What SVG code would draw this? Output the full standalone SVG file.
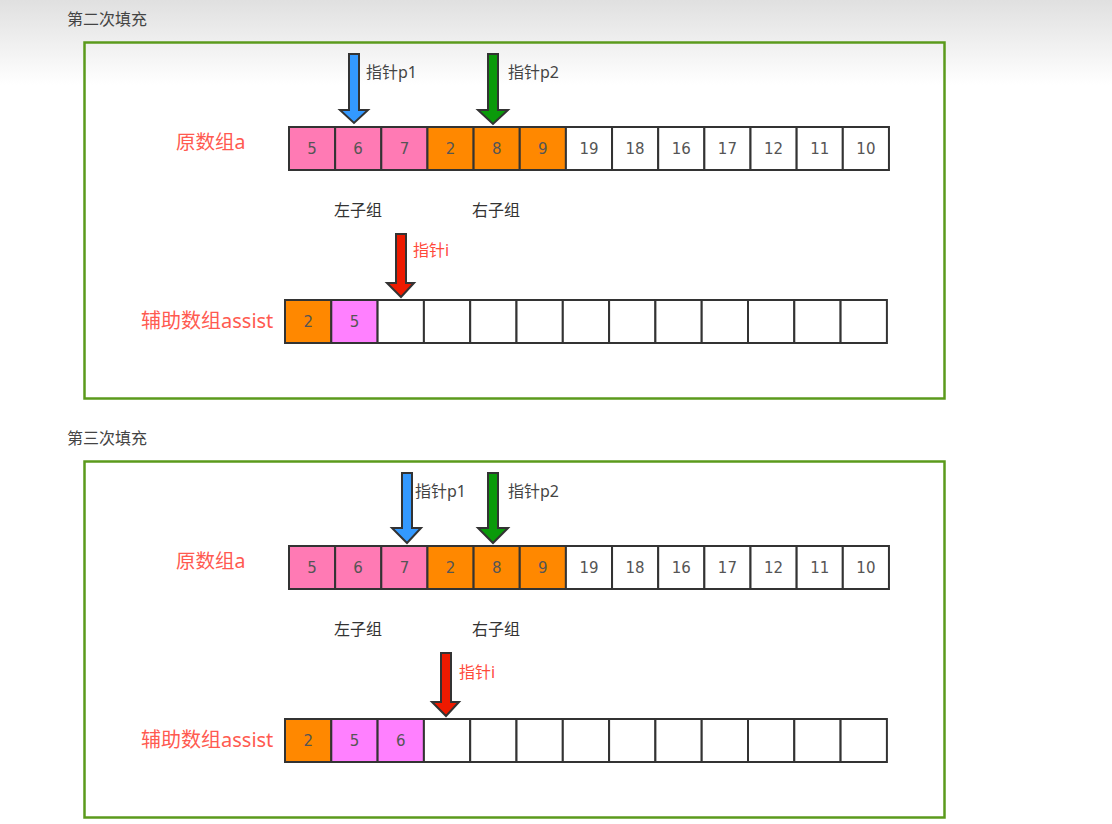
<svg xmlns="http://www.w3.org/2000/svg" width="1112" height="824" viewBox="0 0 1112 824">
<defs>
<linearGradient id="bg" x1="0" y1="0" x2="0" y2="1">
<stop offset="0" stop-color="#e0e0e0"/>
<stop offset="1" stop-color="#ffffff"/>
</linearGradient>
<style>
.frame{fill:none;stroke:#5b9a1c;stroke-width:2.5}
.cell{stroke:#333;stroke-width:2}
.w{fill:#fff}.pk{fill:#ff7ab4}.or{fill:#ff8800}.mg{fill:#ff80ff}
.num{font-family:"DejaVu Sans","Noto Sans",sans-serif;font-size:15px;fill:#555;text-anchor:middle}
.title{font-family:"Noto Sans","Noto Sans CJK SC",sans-serif;font-size:16px;fill:#444}
.lbl{font-family:"Noto Sans","Noto Sans CJK SC",sans-serif;font-size:19.5px;fill:#ff5a50}
.lbl2{font-family:"Noto Sans","Noto Sans CJK SC",sans-serif;font-size:20px;fill:#ff5a50}
.sub{font-family:"Noto Sans","Noto Sans CJK SC",sans-serif;font-size:16px;fill:#333}
.ptr{font-family:"Noto Sans","Noto Sans CJK SC",sans-serif;font-size:16px;fill:#444}
.ptrr{font-family:"Noto Sans","Noto Sans CJK SC",sans-serif;font-size:16px;fill:#ff4a3a}
.arr{stroke:#333;stroke-width:2;stroke-linejoin:miter}
.blue{fill:#3399ff}.green{fill:#0a9a0a}.red{fill:#ee1a00}
</style>
</defs>
<rect x="0" y="0" width="1112" height="824" fill="#fff"/>
<rect x="0" y="0" width="1112" height="85" fill="url(#bg)"/>

<text class="title" x="67" y="25">第二次填充</text>
<text class="title" x="67" y="444">第三次填充</text>

<g id="panel1">
<rect class="frame" x="84.5" y="42.5" width="860" height="356"/>
<text class="lbl" x="176" y="149">原数组a</text>
<text class="lbl2" x="141" y="328">辅助数组assist</text>
<text class="sub" x="334" y="216">左子组</text>
<text class="sub" x="472" y="216">右子组</text>
</g>

<g id="array-a-1">
<rect class="cell pk" x="289" y="127" width="46.15" height="43"/>
<rect class="cell pk" x="335.15" y="127" width="46.15" height="43"/>
<rect class="cell pk" x="381.3" y="127" width="46.15" height="43"/>
<rect class="cell or" x="427.45" y="127" width="46.15" height="43"/>
<rect class="cell or" x="473.6" y="127" width="46.15" height="43"/>
<rect class="cell or" x="519.75" y="127" width="46.15" height="43"/>
<rect class="cell w" x="565.9" y="127" width="46.15" height="43"/>
<rect class="cell w" x="612.05" y="127" width="46.15" height="43"/>
<rect class="cell w" x="658.2" y="127" width="46.15" height="43"/>
<rect class="cell w" x="704.35" y="127" width="46.15" height="43"/>
<rect class="cell w" x="750.5" y="127" width="46.15" height="43"/>
<rect class="cell w" x="796.65" y="127" width="46.15" height="43"/>
<rect class="cell w" x="842.8" y="127" width="46.15" height="43"/>
<text class="num" x="312" y="154">5</text>
<text class="num" x="358" y="154">6</text>
<text class="num" x="404.4" y="154">7</text>
<text class="num" x="450.5" y="154">2</text>
<text class="num" x="496.7" y="154">8</text>
<text class="num" x="542.8" y="154">9</text>
<text class="num" x="589" y="154">19</text>
<text class="num" x="635.1" y="154">18</text>
<text class="num" x="681.3" y="154">16</text>
<text class="num" x="727.4" y="154">17</text>
<text class="num" x="773.6" y="154">12</text>
<text class="num" x="819.7" y="154">11</text>
<text class="num" x="865.9" y="154">10</text>
</g>

<g id="assist-1">
<rect class="cell or" x="285" y="300" width="46.3" height="43"/>
<rect class="cell mg" x="331.3" y="300" width="46.3" height="43"/>
<rect class="cell w" x="377.6" y="300" width="46.3" height="43"/>
<rect class="cell w" x="423.9" y="300" width="46.3" height="43"/>
<rect class="cell w" x="470.2" y="300" width="46.3" height="43"/>
<rect class="cell w" x="516.5" y="300" width="46.3" height="43"/>
<rect class="cell w" x="562.8" y="300" width="46.3" height="43"/>
<rect class="cell w" x="609.1" y="300" width="46.3" height="43"/>
<rect class="cell w" x="655.4" y="300" width="46.3" height="43"/>
<rect class="cell w" x="701.7" y="300" width="46.3" height="43"/>
<rect class="cell w" x="748" y="300" width="46.3" height="43"/>
<rect class="cell w" x="794.3" y="300" width="46.3" height="43"/>
<rect class="cell w" x="840.6" y="300" width="46.3" height="43"/>
<text class="num" x="308.2" y="327">2</text>
<text class="num" x="354.5" y="327">5</text>
</g>

<g id="pointers-1">
<polygon class="arr blue" points="349,54 359,54 359,110 368,110 354,123 340,110 349,110"/>
<text class="ptr" x="366" y="78">指针p1</text>
<polygon class="arr green" points="488,54 498,54 498,110 508,110 493,124 478,110 488,110"/>
<text class="ptr" x="508" y="78">指针p2</text>
<polygon class="arr red" points="396,234 406,234 406,283 414,283 401,297 387,283 396,283"/>
<text class="ptrr" x="413" y="256">指针i</text>
</g>

<g id="panel2">
<rect class="frame" x="84.5" y="461.5" width="860" height="356"/>
<text class="lbl" x="176" y="568">原数组a</text>
<text class="lbl2" x="141" y="747">辅助数组assist</text>
<text class="sub" x="334" y="635">左子组</text>
<text class="sub" x="472" y="635">右子组</text>
</g>

<g id="array-a-2">
<rect class="cell pk" x="289" y="546" width="46.15" height="43"/>
<rect class="cell pk" x="335.15" y="546" width="46.15" height="43"/>
<rect class="cell pk" x="381.3" y="546" width="46.15" height="43"/>
<rect class="cell or" x="427.45" y="546" width="46.15" height="43"/>
<rect class="cell or" x="473.6" y="546" width="46.15" height="43"/>
<rect class="cell or" x="519.75" y="546" width="46.15" height="43"/>
<rect class="cell w" x="565.9" y="546" width="46.15" height="43"/>
<rect class="cell w" x="612.05" y="546" width="46.15" height="43"/>
<rect class="cell w" x="658.2" y="546" width="46.15" height="43"/>
<rect class="cell w" x="704.35" y="546" width="46.15" height="43"/>
<rect class="cell w" x="750.5" y="546" width="46.15" height="43"/>
<rect class="cell w" x="796.65" y="546" width="46.15" height="43"/>
<rect class="cell w" x="842.8" y="546" width="46.15" height="43"/>
<text class="num" x="312" y="573">5</text>
<text class="num" x="358" y="573">6</text>
<text class="num" x="404.4" y="573">7</text>
<text class="num" x="450.5" y="573">2</text>
<text class="num" x="496.7" y="573">8</text>
<text class="num" x="542.8" y="573">9</text>
<text class="num" x="589" y="573">19</text>
<text class="num" x="635.1" y="573">18</text>
<text class="num" x="681.3" y="573">16</text>
<text class="num" x="727.4" y="573">17</text>
<text class="num" x="773.6" y="573">12</text>
<text class="num" x="819.7" y="573">11</text>
<text class="num" x="865.9" y="573">10</text>
</g>

<g id="assist-2">
<rect class="cell or" x="285" y="719" width="46.3" height="43"/>
<rect class="cell mg" x="331.3" y="719" width="46.3" height="43"/>
<rect class="cell mg" x="377.6" y="719" width="46.3" height="43"/>
<rect class="cell w" x="423.9" y="719" width="46.3" height="43"/>
<rect class="cell w" x="470.2" y="719" width="46.3" height="43"/>
<rect class="cell w" x="516.5" y="719" width="46.3" height="43"/>
<rect class="cell w" x="562.8" y="719" width="46.3" height="43"/>
<rect class="cell w" x="609.1" y="719" width="46.3" height="43"/>
<rect class="cell w" x="655.4" y="719" width="46.3" height="43"/>
<rect class="cell w" x="701.7" y="719" width="46.3" height="43"/>
<rect class="cell w" x="748" y="719" width="46.3" height="43"/>
<rect class="cell w" x="794.3" y="719" width="46.3" height="43"/>
<rect class="cell w" x="840.6" y="719" width="46.3" height="43"/>
<text class="num" x="308.2" y="746">2</text>
<text class="num" x="354.5" y="746">5</text>
<text class="num" x="400.8" y="746">6</text>
</g>

<g id="pointers-2">
<polygon class="arr blue" points="402,473 412,473 412,528 421,528 407,543 392,528 402,528"/>
<text class="ptr" x="415" y="497">指针p1</text>
<polygon class="arr green" points="488,473 498,473 498,528 508,528 493,543 478,528 488,528"/>
<text class="ptr" x="508" y="497">指针p2</text>
<polygon class="arr red" points="441,653 451,653 451,702 459,702 446,716 432,702 441,702"/>
<text class="ptrr" x="459" y="678">指针i</text>
</g>
</svg>
